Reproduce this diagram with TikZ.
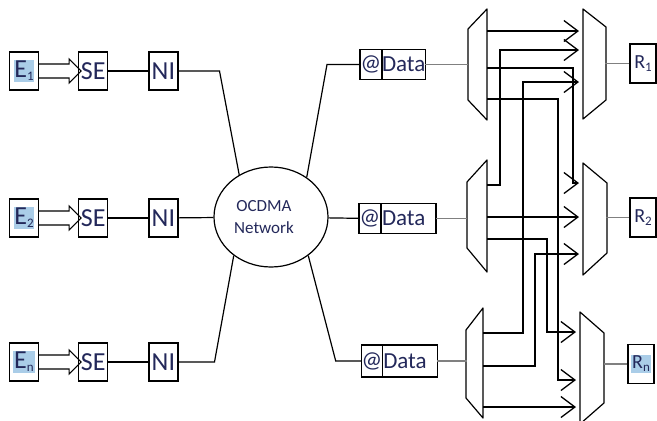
\documentclass[tikz,border=0pt]{standalone}
\usepackage{fontspec}
\setmainfont{Carlito}
\usepackage{tikz}
\usetikzlibrary{positioning,arrows.meta,shapes.geometric}
\definecolor{txt}{RGB}{35,40,90}
\definecolor{hilite}{RGB}{170,205,232}
\newcommand{\hlbox}[1]{{\setlength{\fboxsep}{0.8pt}\colorbox{hilite}{#1}}}
\newcommand{\sbs}[1]{\raisebox{-3pt}{\fontsize{13}{13}\selectfont #1}}

\begin{document}
\begin{tikzpicture}[x=1pt,y=-1pt,
    box/.style={draw,line width=1.2pt,minimum width=29pt,minimum height=38pt,inner sep=0pt,font=\fontsize{26}{28}\selectfont,text=txt},
    dbox/.style={draw,line width=1.2pt,minimum height=30pt,inner sep=0pt,outer sep=0pt,font=\fontsize{23}{24}\selectfont,text=txt},
    rbox/.style={draw,line width=1.2pt,minimum width=26pt,minimum height=39pt,inner sep=0pt,font=\fontsize{20}{22}\selectfont,text=txt},
    wire/.style={line width=1.2pt},
    gwire/.style={line width=1.2pt,gray},
    fat/.style={line width=1.1pt,line join=miter},
    arr/.style={line width=1.3pt,-{Straight Barb[length=14pt,width=21pt]}},
    trap/.style={line width=1.2pt,line join=round}
  ]
  \useasboundingbox (0,0) rectangle (657,421);

  % sources
  \node[box] (e1) at (24,71)  {\hlbox{E\sbs{1}}};
  \node[box] (e2) at (24,218) {\hlbox{E\sbs{2}}};
  \node[box] (e3) at (24,362) {\hlbox{E\sbs{n}}};
  \node[box,right=39pt of e1] (se1) {SE};
  \node[box,right=39pt of e2] (se2) {SE};
  \node[box,right=39pt of e3] (se3) {SE};
  \node[box,right=40pt of se1] (ni1) {NI};
  \node[box,right=40pt of se2] (ni2) {NI};
  \node[box,right=40pt of se3] (ni3) {NI};
  \foreach \i in {1,2,3}{
    \draw[fat] (e\i.east) ++(0,-7) -- ++(30,0) -- ++(0,-5) -- ++(12,12)
      -- ++(-12,12) -- ++(0,-5) -- ++(-30,0);
    \draw[wire] (se\i) -- (ni\i);
  }

  % network
  \node[draw,ellipse,line width=1.2pt,minimum width=114pt,minimum height=100pt,
        align=center,font=\fontsize{17}{22}\selectfont,text=txt] (net) at (271,217)
        {\hspace*{-14pt}OCDMA\\\hspace*{-14pt}Network};
  \draw[wire] (ni1.east) -- ++(41,0) -- (net.127);
  \draw[wire] (ni2) -- (net);
  \draw[wire] (ni3.east) -- ++(36,0) -- (net.226);

  % address / data
  \node[dbox,minimum width=22pt] (at1) at (371,64.5) {@};
  \node[dbox,minimum width=43pt,right=0pt of at1] (da1) {Data};
  \node[dbox,minimum width=22pt] (at2) at (370,218.5) {@};
  \node[dbox,text width=53pt,inner xsep=1pt,align=left,right=0pt of at2] (da2) {Data};
  \node[dbox,minimum width=18pt,minimum height=32pt] (at3) at (372,361) {@};
  \node[dbox,text width=53pt,inner xsep=1pt,align=left,minimum height=32pt,right=0pt of at3] (da3) {Data};
  \draw[wire] (net.48) -- ([xshift=-33pt]at1.west) -- (at1.west);
  \draw[wire] (net) -- (at2);
  \draw[wire] (net.314) -- ([xshift=-26pt]at3.west) -- (at3.west);

  % demultiplexers
  \draw[trap] (468,29) -- (487,9) -- (487,120) -- (468,100) -- cycle;
  \draw[trap] (467,182) -- (487,160) -- (487,272) -- (467,248) -- cycle;
  \draw[trap] (466,330) -- (483,308) -- (483,418) -- (466,398) -- cycle;
  \draw[gwire] (da1.east) -- ++(43,0);
  \draw[gwire] (da2.east) -- ++(31,0);
  \draw[gwire] (da3.east) -- ++(30,0);

  % multiplexers
  \draw[trap] (583,9) -- (606,27) -- (606,100) -- (583,119) -- cycle;
  \draw[trap] (583,163) -- (607,183) -- (607,253) -- (583,275) -- cycle;
  \draw[trap] (580,312) -- (604,333) -- (604,403) -- (580,424) -- cycle;

  % crossing links
  \draw[arr] (487,31) -- (579,31);
  \draw[arr] (487,185) -| (500,50) -- (579,50);
  \draw[arr] (483,333) -| (523,82) -- (579,82);
  \draw[arr] (487,68) -| (573,183) -- (579,183);
  \draw[arr] (487,217) -- (579,217);
  \draw[arr] (483,366) -| (535,254) -- (579,254);
  \draw[arr] (487,239) -| (547,332) -- (576,332);
  \draw[arr] (487,99) -| (558,380) -- (576,380);
  \draw[arr] (483,407) -- (576,407);

  % receivers
  \node[rbox] (r1) at (643,63.5) {R\sbs{1}};
  \node[rbox] (r2) at (643,217.5) {R\sbs{2}};
  \node[rbox] (r3) at (641,364) {\hlbox{R\sbs{n}}};
  \draw[gwire] (r1.west) -- ++(-24,0);
  \draw[gwire] (r2.west) -- ++(-23,0);
  \draw[gwire] (r3.west) -- ++(-23,0);
\end{tikzpicture}
\end{document}
